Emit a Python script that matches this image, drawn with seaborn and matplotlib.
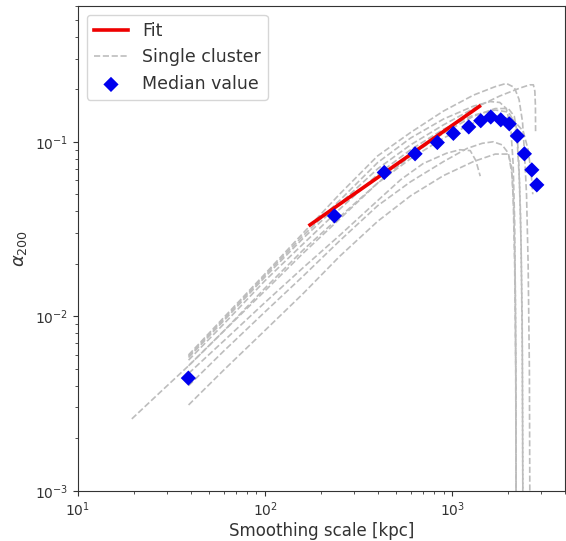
import matplotlib
matplotlib.use("Agg")
import matplotlib.pyplot as plt
import seaborn as sns
import pandas as pd

# ---- data ----
median_x = [38.9, 235, 434, 634, 834, 1016, 1228, 1423, 1610, 1821, 2023, 2233, 2436, 2669, 2838]
median_y = [0.00442, 0.0376, 0.0667, 0.0853, 0.099, 0.1117, 0.1216, 0.132, 0.1387, 0.1336,
            0.1267, 0.108, 0.0853, 0.069, 0.0566]

fit_x = [174, 1400]
fit_y = [0.0334, 0.1596]

c1_x = [39, 60, 100, 160, 250, 400, 600, 900, 1300, 1700, 1950, 2150, 2280, 2380, 2440, 2500, 2550, 2590, 2605]
c1_y = [0.0060, 0.0098, 0.0175, 0.030, 0.050, 0.083, 0.113, 0.150, 0.185, 0.207, 0.216, 0.205, 0.175,
        0.13, 0.085, 0.05, 0.02, 0.005, 0.0008]
c2_x = [39, 60, 100, 160, 250, 400, 600, 900, 1300, 1800, 2300, 2600, 2720, 2770, 2790, 2795]
c2_y = [0.0058, 0.0094, 0.0168, 0.028, 0.044, 0.070, 0.096, 0.125, 0.155, 0.183, 0.203, 0.212, 0.212,
        0.195, 0.16, 0.115]
c3_x = [39, 60, 100, 160, 250, 400, 530, 700, 935, 1100, 1250, 1340, 1414]
c3_y = [0.0047, 0.0072, 0.0120, 0.0190, 0.029, 0.046, 0.0605, 0.075, 0.086, 0.090, 0.089, 0.078, 0.0635]
c4_x = [39, 60, 100, 160, 250, 400, 600, 900, 1200, 1450, 1660, 1850, 2000, 2090, 2140, 2175, 2195, 2200]
c4_y = [0.0040, 0.0063, 0.0106, 0.017, 0.027, 0.043, 0.059, 0.077, 0.0915, 0.098, 0.100, 0.096, 0.086,
        0.065, 0.040, 0.015, 0.004, 0.0008]
c5_x = [39, 60, 100, 160, 250, 400, 600, 900, 1300, 1700, 2000, 2080, 2120, 2160, 2190, 2200]
c5_y = [0.0031, 0.0049, 0.0083, 0.0135, 0.022, 0.035, 0.049, 0.064, 0.077, 0.085, 0.085, 0.072, 0.05,
        0.02, 0.005, 0.0008]
c6_x = [39, 60, 100, 160, 250, 400, 600, 900, 1300, 1600, 1800, 1950, 2060, 2120, 2160, 2185, 2198]
c6_y = [0.0059, 0.0096, 0.0172, 0.029, 0.046, 0.076, 0.105, 0.135, 0.160, 0.170, 0.168, 0.155, 0.12,
        0.075, 0.035, 0.010, 0.0008]
c7_x = [39, 60, 100, 160, 250, 400, 600, 900, 1300, 1700, 2000, 2150, 2230, 2290, 2340, 2375, 2392]
c7_y = [0.0056, 0.0090, 0.0160, 0.026, 0.041, 0.065, 0.090, 0.118, 0.142, 0.152, 0.148, 0.130, 0.100,
        0.060, 0.025, 0.006, 0.0008]
c8_x = [39, 60, 100, 160, 250, 400, 600, 900, 1300, 1700, 2100, 2400, 2550, 2650, 2700]
c8_y = [0.0052, 0.0082, 0.0145, 0.024, 0.037, 0.058, 0.080, 0.105, 0.128, 0.140, 0.135, 0.115, 0.090,
        0.065, 0.050]
c9_x = [19.4, 27, 39, 60, 100, 160, 250, 400, 600, 900, 1300, 1700, 2000, 2150, 2220, 2270, 2320, 2370, 2390]
c9_y = [0.00258, 0.0036, 0.0052, 0.0082, 0.0140, 0.023, 0.036, 0.058, 0.083, 0.112, 0.140, 0.155, 0.155,
        0.140, 0.115, 0.08, 0.04, 0.01, 0.0008]

clusters = [(c1_x, c1_y), (c2_x, c2_y), (c3_x, c3_y), (c4_x, c4_y), (c5_x, c5_y),
            (c6_x, c6_y), (c7_x, c7_y), (c8_x, c8_y), (c9_x, c9_y)]

TXT = "#333333"
plt.rcParams.update({
    "text.color": TXT, "axes.labelcolor": TXT, "xtick.color": TXT, "ytick.color": TXT,
    "axes.edgecolor": TXT, "font.family": ["DejaVu Sans"],
})

fig = plt.figure(figsize=(5.66, 5.41), dpi=100)
ax = fig.add_axes([78 / 566, 1 - 490.7 / 541, (564.7 - 78) / 566, (490.7 - 6) / 541])
ax.set_xscale("log")
ax.set_yscale("log")

for i, (cx, cy) in enumerate(clusters):
    df = pd.DataFrame({"x": cx, "y": cy})
    sns.lineplot(data=df, x="x", y="y", sort=False, estimator=None, ax=ax,
                 color="#bdbdbd", linestyle="--", linewidth=1.2, legend=False)
cluster_line = ax.lines[0]

sns.lineplot(x=fit_x, y=fit_y, ax=ax, color="#ee0000", linewidth=2.6, legend=False,
             estimator=None, sort=False)
fit_line = ax.lines[-1]

sns.scatterplot(x=median_x, y=median_y, ax=ax, marker="D", color="#0000ee", s=60,
                edgecolor="none", zorder=5, legend=False)
med = ax.collections[-1]

ax.set_xlim(10, 4000)
ax.set_ylim(1e-3, 0.6)
ax.set_xlabel("Smoothing scale [kpc]", fontsize=12, labelpad=2)
ax.set_ylabel(r"$\alpha_{200}$", fontsize=13)
ax.tick_params(labelsize=10)

ax.legend([fit_line, cluster_line, med], ["Fit", "Single cluster", "Median value"],
          loc="upper left", fontsize=12.5, frameon=True)

fig.savefig("out.png", dpi=100)
